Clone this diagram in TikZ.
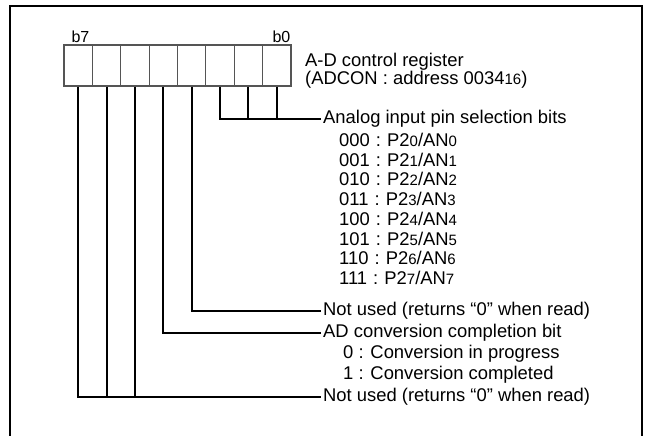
\documentclass[tikz,border=0pt]{standalone}
\usepackage{fontspec}
\setmainfont{Liberation Sans}
\usetikzlibrary{positioning}
\definecolor{regedge}{RGB}{85,85,85}
\definecolor{wireblack}{RGB}{0,0,0}
\newcommand{\sm}[1]{{\fontsize{15}{15}\selectfont #1}}
\tikzset{
  regcell/.style={draw=regedge, line width=1.1pt, minimum width=28.375pt,
    minimum height=41pt, inner sep=0pt},
  bitlbl/.style={font=\fontsize{16}{16}\selectfont, inner sep=0pt},
  lbl/.style={font=\fontsize{18.4}{20}\selectfont, anchor=west, inner xsep=2pt, inner ysep=0pt},
  optlbl/.style={font=\fontsize{18.4}{20}\selectfont, anchor=west, inner sep=0pt},
  wire/.style={line width=2pt, wireblack},
  framed/.style={line width=2.2pt, black}
}

\begin{document}
\begin{tikzpicture}[x=1pt,y=-1pt]
        \useasboundingbox (0,0) rectangle (646,436);
        \draw[framed] (10,440) -- (10,6) -- (642,6) -- (642,440);
        % register cells, b7 on the left
        \foreach \b in {0,...,7}
          \node[regcell] (c\b) at ({78.2+(7-\b)*28.375},65.5) {};
        \node[bitlbl] (lb7) at (80.5,37) {b7};
        \node[bitlbl] (lb0) at (281.5,37) {b0};
        \node[optlbl] (regname) at (305,62) {A-D control register};
        \node[optlbl] (regaddr) at (305,80) {(ADCON : address 0034\sm{16})};
        % bit labels
        \node[lbl] (sel) at (321,119) {Analog input pin selection bits};
        \foreach \code/\n [count=\k] in {000/0,001/1,010/2,011/3,100/4,101/5,110/6,111/7}
          \node[optlbl] (pin\n) at (339,{120+19.75*\k})
            {\code\hspace{0.33em}:\hspace{0.33em}P2\sm{\n}/AN\sm{\n}};
        \node[lbl] (nu1) at (321,311) {Not used (returns “0” when read)};
        \node[lbl] (ad) at (321,333) {AD conversion completion bit};
        \node[optlbl] (ad0) at (343,354) {0 : Conversion in progress};
        \node[optlbl] (ad1) at (343,375) {1 : Conversion completed};
        \node[lbl] (nu2) at (321,397) {Not used (returns “0” when read)};
        % connectors
        \draw[wire] (c2.south) |- (sel.west);
        \draw[wire] (c1.south) -- (c1.south |- sel.west);
        \draw[wire] (c0.south) -- (c0.south |- sel.west);
        \draw[wire] (c3.south) |- (nu1.west);
        \draw[wire] (c4.south) |- (ad.west);
        \draw[wire] (c7.south) |- (nu2.west);
        \draw[wire] (c6.south) -- (c6.south |- nu2.west);
        \draw[wire] (c5.south) -- (c5.south |- nu2.west);
      \end{tikzpicture}
\end{document}
